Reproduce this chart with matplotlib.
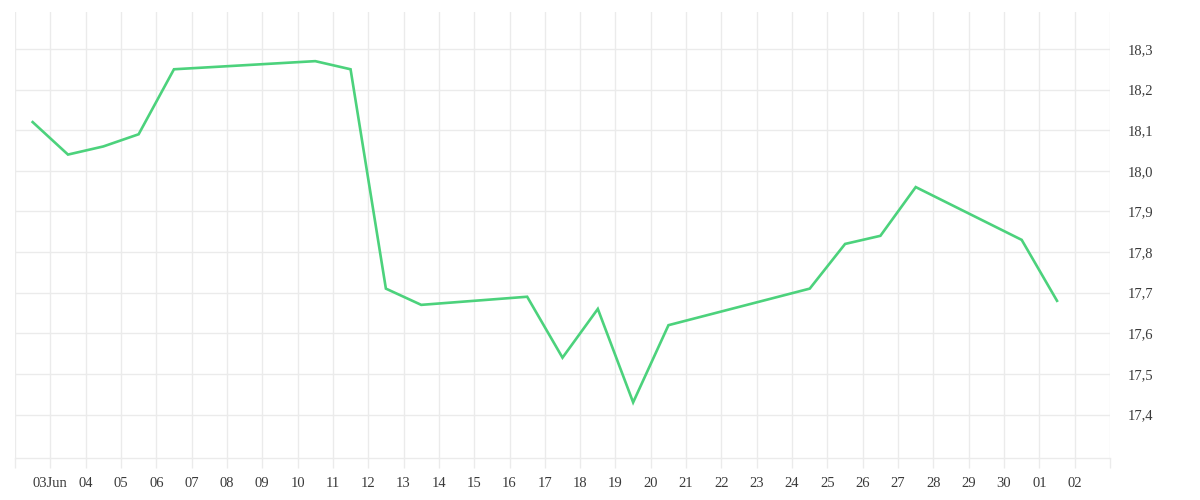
import matplotlib
matplotlib.use("Agg")
import matplotlib.pyplot as plt
import matplotlib.dates as mdates
import numpy as np
from matplotlib.ticker import FuncFormatter, FixedLocator

dates = ["2025-06-02", "2025-06-03", "2025-06-04", "2025-06-05", "2025-06-06",
         "2025-06-10", "2025-06-11", "2025-06-12", "2025-06-13", "2025-06-16",
         "2025-06-17", "2025-06-18", "2025-06-19", "2025-06-20", "2025-06-24",
         "2025-06-25", "2025-06-26", "2025-06-27", "2025-06-30", "2025-07-01"]
values = [18.12, 18.04, 18.06, 18.09, 18.25,
          18.27, 18.25, 17.71, 17.67, 17.69,
          17.54, 17.66, 17.43, 17.62, 17.71,
          17.82, 17.84, 17.96, 17.83, 17.68]
y_ticks = [17.4, 17.5, 17.6, 17.7, 17.8, 17.9, 18.0, 18.1, 18.2, 18.3]

x = np.array(dates, dtype="datetime64[D]") + np.timedelta64(12, "h")
x = x.astype("datetime64[m]").astype(object)

fig = plt.figure(figsize=(12, 5), dpi=100)
ax = fig.add_axes([0.0125, 0.084, 0.9125, 0.892])

grid_c = "#ebebeb"
ax.plot(x, values, color="#4cd27c", linewidth=1.9, solid_joinstyle="miter", zorder=3)

start = np.datetime64("2025-06-02")
end = np.datetime64("2025-07-03")
ax.set_xlim(mdates.date2num(start.astype(object)), mdates.date2num(end.astype(object)))
ax.set_ylim(17.293, 18.391)

day_ticks = [mdates.date2num((start + np.timedelta64(i, "D")).astype(object)) for i in range(32)]
ax.xaxis.set_major_locator(FixedLocator(day_ticks))

def fmt_x(v, pos):
    d = mdates.num2date(v)
    if pos == 0 or pos == 31:
        return ""
    if d.day == 3 and d.month == 6:
        return "03Jun"
    return d.strftime("%d")

ax.xaxis.set_major_formatter(FuncFormatter(fmt_x))
ax.set_yticks(y_ticks)
ax.yaxis.set_major_formatter(FuncFormatter(lambda v, p: f"{v:.1f}".replace(".", ",")))
ax.yaxis.tick_right()

ax.grid(True, color=grid_c, linewidth=1)
ax.set_axisbelow(True)
for s in ["top", "left", "right"]:
    ax.spines[s].set_visible(False)
ax.spines["bottom"].set_color(grid_c)
ax.spines["bottom"].set_linewidth(1)

ax.tick_params(axis="x", length=7.5, width=1, color=grid_c, pad=6, labelsize=10.5, labelcolor="#3a3a3a")
ax.tick_params(axis="y", length=0, pad=13, labelsize=10.5, labelcolor="#3a3a3a")
for lab in ax.get_xticklabels() + ax.get_yticklabels():
    lab.set_family(["Liberation Serif", "DejaVu Serif"])

fig.savefig("out.png", dpi=100, facecolor="white")
